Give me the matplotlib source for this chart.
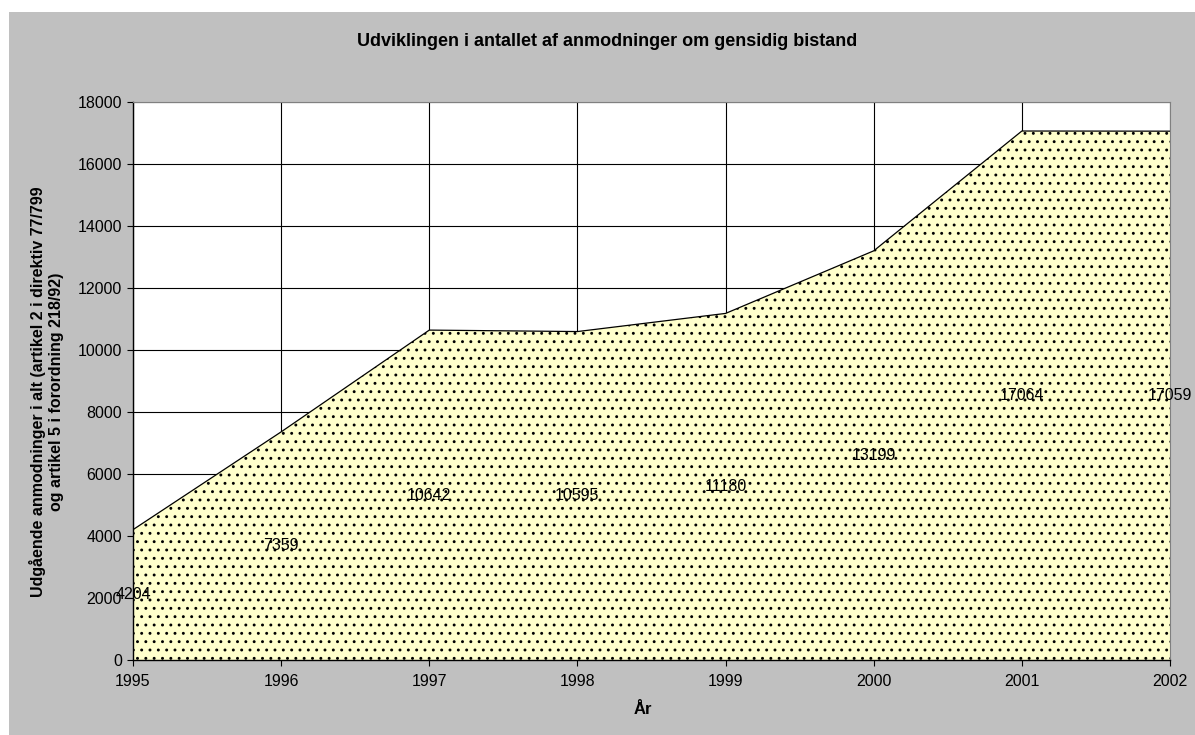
import matplotlib
matplotlib.use('Agg')
import matplotlib.pyplot as plt
from matplotlib.patches import Rectangle

plt.rcParams['font.family'] = ['Liberation Sans', 'DejaVu Sans']
plt.rcParams['hatch.color'] = 'black'
plt.rcParams['hatch.linewidth'] = 0.9

# ─── Data ───
YEARS = [1995, 1996, 1997, 1998, 1999, 2000, 2001, 2002]
REQUESTS = [4204, 7359, 10642, 10595, 11180, 13199, 17064, 17059]
Y_TICKS = list(range(0, 18001, 2000))

TITLE = 'Udviklingen i antallet af anmodninger om gensidig bistand'
X_LABEL = 'År'
Y_LABEL = ('Udgående anmodninger i alt (artikel 2 i direktiv 77/799\n'
           'og artikel 5 i forordning 218/92)')

# ─── Colors ───
BG_PANEL = '#c0c0c0'
FILL = '#ffffcc'

W, H = 1195, 735
fig = plt.figure(figsize=(W / 100, H / 100), dpi=100)
fig.patch.set_facecolor('white')

# gray chart panel (leaves a thin white margin top/left)
fig.add_artist(Rectangle((9 / W, 0), 1 - 9 / W, 1 - 12 / H,
                         transform=fig.transFigure, facecolor=BG_PANEL,
                         edgecolor='none', zorder=0))

ax = fig.add_axes([133 / W, 1 - 660 / H, (1170 - 133) / W, (660 - 102) / H])
ax.set_facecolor('white')
ax.set_xlim(YEARS[0], YEARS[-1])
ax.set_ylim(0, 18000)

ax.fill_between(YEARS, REQUESTS, 0, facecolor=FILL, edgecolor='black',
                hatch='..', linewidth=0, zorder=2)
ax.plot(YEARS, REQUESTS, color='black', lw=0.9, zorder=3)

ax.set_xticks(YEARS)
ax.set_yticks(Y_TICKS)
ax.grid(True, color='black', lw=0.8, zorder=1)
ax.set_axisbelow(True)

for spine in ['left', 'bottom']:
    ax.spines[spine].set_color('black')
    ax.spines[spine].set_linewidth(1.0)
for spine in ['top', 'right']:
    ax.spines[spine].set_color('#808080')
    ax.spines[spine].set_linewidth(0.8)

ax.tick_params(axis='x', direction='out', length=4, pad=6, labelsize=11.5)
ax.tick_params(axis='y', direction='out', length=4, pad=4, labelsize=11.5)

# data labels at half the value, centered on the year
for x, v in zip(YEARS, REQUESTS):
    ax.text(x, v / 2, str(v), ha='center', va='center', fontsize=11.5,
            color='black', zorder=5, clip_on=False)

fig.text(607 / W, 1 - 42 / H, TITLE, ha='center', va='center',
         fontsize=13, fontweight='bold')
fig.text(643 / W, 1 - 710 / H, X_LABEL, ha='center', va='center',
         fontsize=12, fontweight='bold')
fig.text(47 / W, 1 - 392 / H, Y_LABEL, ha='center', va='center',
         rotation=90, fontsize=11.5, fontweight='bold', multialignment='center',
         linespacing=1.25)

fig.savefig('out.png', dpi=100)
